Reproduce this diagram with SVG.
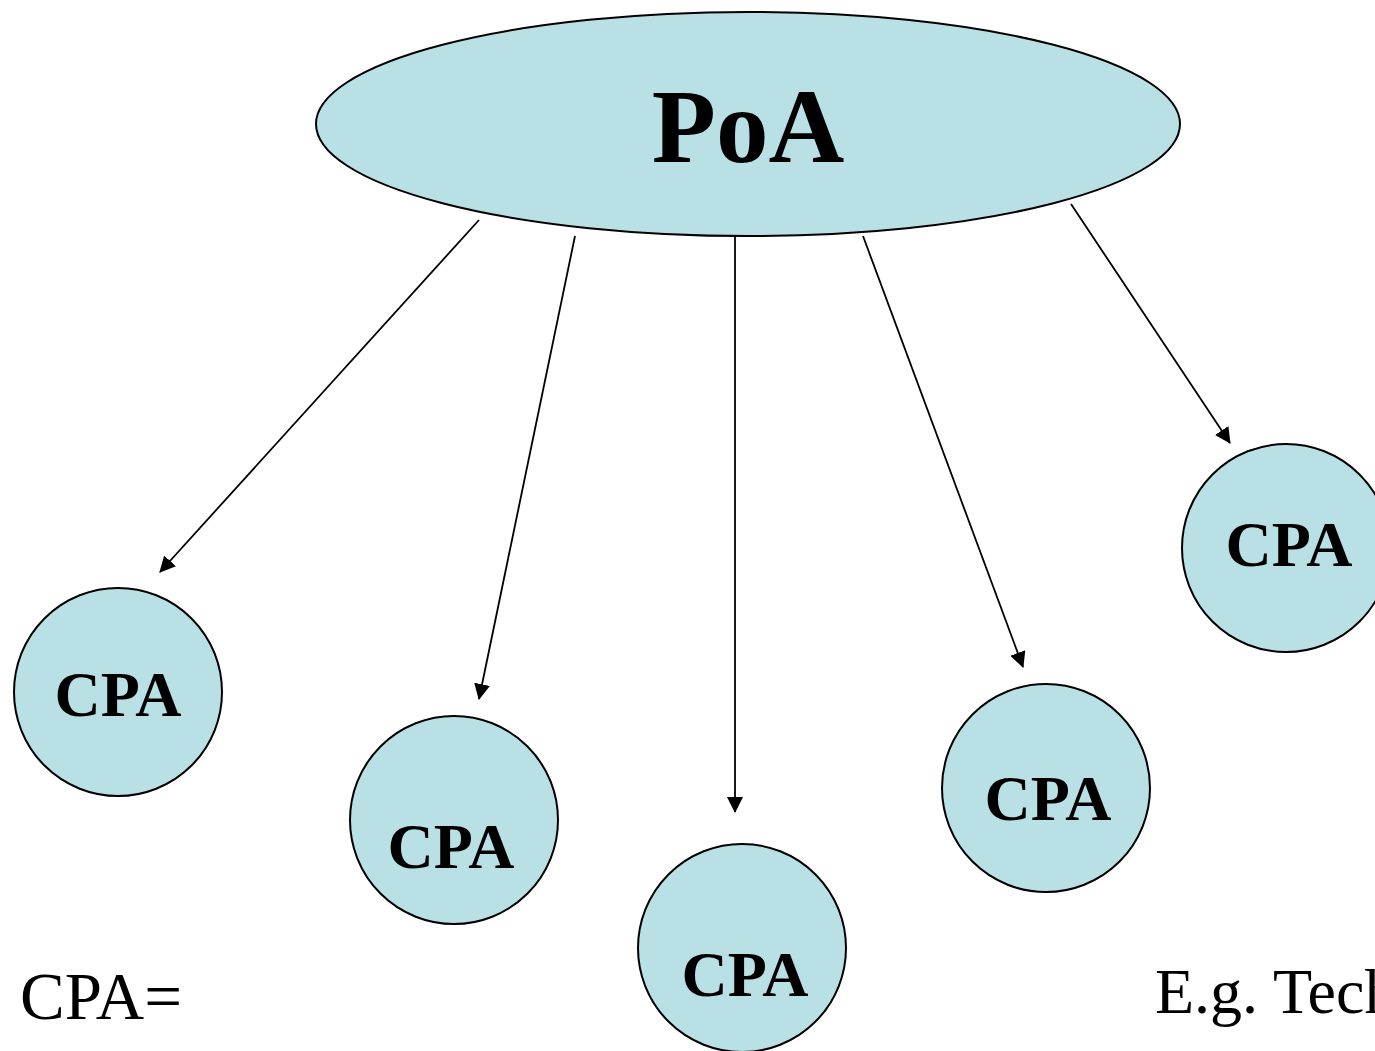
<svg xmlns="http://www.w3.org/2000/svg" width="1375" height="1051" viewBox="0 0 1375 1051">
<style>
.node{fill:#b9e0e4;stroke:#000;stroke-width:2}
.lbl{font-family:"Liberation Serif","Times New Roman",serif;font-weight:bold;fill:#000;text-anchor:middle}
.cpa{font-size:64px}
.edge{stroke:#000;stroke-width:1.8;fill:none;marker-end:url(#ah)}
.plain{font-family:"Liberation Serif","Times New Roman",serif;fill:#000}
</style>
<defs>
<marker id="ah" markerWidth="16" markerHeight="16" refX="15" refY="8" orient="auto" markerUnits="userSpaceOnUse">
<path d="M0,0 L16,8 L0,16 Z" fill="#000"/>
</marker>
</defs>
<rect width="1375" height="1051" fill="#fff"/>
<g id="poa">
<ellipse class="node" cx="748" cy="124" rx="432" ry="112"/>
<text class="lbl" x="748" y="162" style="font-size:105px">PoA</text>
</g>
<g id="cpa1">
<circle class="node" cx="118" cy="692" r="104"/>
<text class="lbl cpa" x="118" y="716">CPA</text>
</g>
<g id="cpa2">
<circle class="node" cx="454" cy="820" r="104"/>
<text class="lbl cpa" x="451" y="868">CPA</text>
</g>
<g id="cpa3">
<circle class="node" cx="742" cy="948" r="104"/>
<text class="lbl cpa" x="745" y="996">CPA</text>
</g>
<g id="cpa4">
<circle class="node" cx="1046" cy="788" r="104"/>
<text class="lbl cpa" x="1048" y="820">CPA</text>
</g>
<g id="cpa5">
<circle class="node" cx="1286" cy="548" r="104"/>
<text class="lbl cpa" x="1289" y="566">CPA</text>
</g>
<g id="connectors">
<line class="edge" x1="479" y1="220" x2="160" y2="572"/>
<line class="edge" x1="575" y1="236" x2="479" y2="699"/>
<line class="edge" x1="735" y1="236" x2="735" y2="812"/>
<line class="edge" x1="863" y1="236" x2="1023" y2="667"/>
<line class="edge" x1="1071" y1="204" x2="1230" y2="443"/>
</g>
<text class="plain" x="20" y="1019" style="font-size:67px">CPA=</text>
<text class="plain" x="1155" y="1013" style="font-size:64px">E.g. Tech</text>
</svg>
